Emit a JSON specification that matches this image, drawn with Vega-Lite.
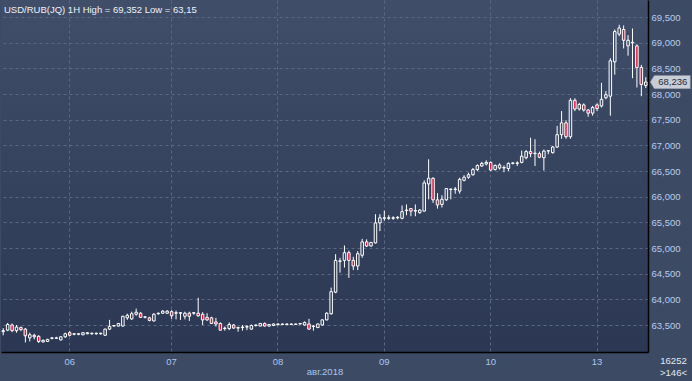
{
  "$schema": "https://vega.github.io/schema/vega-lite/v6.json",
  "width": 647,
  "height": 352,
  "autosize": {"type": "none"},
  "padding": {"left": 1, "top": 0, "right": 44, "bottom": 29},
  "background": "#3d4a64",
  "title": {"text": "USD/RUB(JQ) 1H High = 69,352 Low = 63,15", "anchor": "start", "frame": "group", "orient": "top", "offset": 0, "dx": 3, "dy": 22, "baseline": "alphabetic", "font": "Liberation Sans", "fontSize": 9.5, "fontWeight": "normal", "color": "#eef2f8"},
  "data": {"values": [
    {"t": "2018-08-03 09:00", "o": 63.37, "h": 63.44, "l": 63.30, "c": 63.39},
    {"t": "2018-08-03 10:00", "o": 63.40, "h": 63.54, "l": 63.38, "c": 63.51},
    {"t": "2018-08-03 11:00", "o": 63.50, "h": 63.53, "l": 63.36, "c": 63.39},
    {"t": "2018-08-03 12:00", "o": 63.39, "h": 63.50, "l": 63.35, "c": 63.46},
    {"t": "2018-08-03 13:00", "o": 63.45, "h": 63.47, "l": 63.38, "c": 63.41},
    {"t": "2018-08-03 14:00", "o": 63.42, "h": 63.44, "l": 63.16, "c": 63.29},
    {"t": "2018-08-03 15:00", "o": 63.25, "h": 63.35, "l": 63.18, "c": 63.31},
    {"t": "2018-08-03 16:00", "o": 63.30, "h": 63.33, "l": 63.22, "c": 63.27},
    {"t": "2018-08-03 17:00", "o": 63.28, "h": 63.30, "l": 63.15, "c": 63.18},
    {"t": "2018-08-03 18:00", "o": 63.17, "h": 63.22, "l": 63.16, "c": 63.20},
    {"t": "2018-08-03 19:00", "o": 63.18, "h": 63.23, "l": 63.17, "c": 63.22},
    {"t": "2018-08-03 20:00", "o": 63.24, "h": 63.26, "l": 63.22, "c": 63.25},
    {"t": "2018-08-03 21:00", "o": 63.24, "h": 63.27, "l": 63.23, "c": 63.25},
    {"t": "2018-08-03 22:00", "o": 63.21, "h": 63.28, "l": 63.20, "c": 63.27},
    {"t": "2018-08-03 23:00", "o": 63.27, "h": 63.35, "l": 63.25, "c": 63.33},
    {"t": "2018-08-06 01:00", "o": 63.35, "h": 63.38, "l": 63.28, "c": 63.30},
    {"t": "2018-08-06 02:00", "o": 63.32, "h": 63.34, "l": 63.30, "c": 63.33},
    {"t": "2018-08-06 03:00", "o": 63.32, "h": 63.34, "l": 63.30, "c": 63.33},
    {"t": "2018-08-06 04:00", "o": 63.31, "h": 63.36, "l": 63.30, "c": 63.35},
    {"t": "2018-08-06 05:00", "o": 63.33, "h": 63.36, "l": 63.32, "c": 63.35},
    {"t": "2018-08-06 06:00", "o": 63.33, "h": 63.35, "l": 63.31, "c": 63.34},
    {"t": "2018-08-06 07:00", "o": 63.33, "h": 63.35, "l": 63.31, "c": 63.34},
    {"t": "2018-08-06 08:00", "o": 63.33, "h": 63.35, "l": 63.31, "c": 63.34},
    {"t": "2018-08-06 09:00", "o": 63.30, "h": 63.43, "l": 63.29, "c": 63.42},
    {"t": "2018-08-06 10:00", "o": 63.42, "h": 63.60, "l": 63.40, "c": 63.47},
    {"t": "2018-08-06 11:00", "o": 63.48, "h": 63.50, "l": 63.47, "c": 63.49},
    {"t": "2018-08-06 12:00", "o": 63.48, "h": 63.54, "l": 63.47, "c": 63.53},
    {"t": "2018-08-06 13:00", "o": 63.48, "h": 63.68, "l": 63.47, "c": 63.67},
    {"t": "2018-08-06 14:00", "o": 63.64, "h": 63.72, "l": 63.60, "c": 63.69},
    {"t": "2018-08-06 15:00", "o": 63.62, "h": 63.76, "l": 63.60, "c": 63.72},
    {"t": "2018-08-06 16:00", "o": 63.71, "h": 63.82, "l": 63.68, "c": 63.75},
    {"t": "2018-08-06 17:00", "o": 63.73, "h": 63.75, "l": 63.64, "c": 63.65},
    {"t": "2018-08-06 18:00", "o": 63.65, "h": 63.67, "l": 63.63, "c": 63.66},
    {"t": "2018-08-06 19:00", "o": 63.64, "h": 63.66, "l": 63.57, "c": 63.59},
    {"t": "2018-08-06 20:00", "o": 63.58, "h": 63.73, "l": 63.57, "c": 63.71},
    {"t": "2018-08-06 21:00", "o": 63.72, "h": 63.74, "l": 63.70, "c": 63.73},
    {"t": "2018-08-06 22:00", "o": 63.73, "h": 63.79, "l": 63.72, "c": 63.77},
    {"t": "2018-08-06 23:00", "o": 63.73, "h": 63.79, "l": 63.72, "c": 63.77},
    {"t": "2018-08-07 00:00", "o": 63.76, "h": 63.79, "l": 63.62, "c": 63.68},
    {"t": "2018-08-07 01:00", "o": 63.73, "h": 63.78, "l": 63.61, "c": 63.74},
    {"t": "2018-08-07 02:00", "o": 63.73, "h": 63.75, "l": 63.60, "c": 63.74},
    {"t": "2018-08-07 03:00", "o": 63.67, "h": 63.76, "l": 63.61, "c": 63.73},
    {"t": "2018-08-07 04:00", "o": 63.73, "h": 63.76, "l": 63.58, "c": 63.67},
    {"t": "2018-08-07 05:00", "o": 63.73, "h": 63.75, "l": 63.70, "c": 63.74},
    {"t": "2018-08-07 06:00", "o": 63.73, "h": 64.03, "l": 63.66, "c": 63.68},
    {"t": "2018-08-07 07:00", "o": 63.71, "h": 63.75, "l": 63.50, "c": 63.60},
    {"t": "2018-08-07 08:00", "o": 63.65, "h": 63.73, "l": 63.58, "c": 63.60},
    {"t": "2018-08-07 09:00", "o": 63.64, "h": 63.66, "l": 63.52, "c": 63.53},
    {"t": "2018-08-07 10:00", "o": 63.56, "h": 63.64, "l": 63.47, "c": 63.52},
    {"t": "2018-08-07 11:00", "o": 63.53, "h": 63.55, "l": 63.39, "c": 63.40},
    {"t": "2018-08-07 12:00", "o": 63.43, "h": 63.47, "l": 63.39, "c": 63.44},
    {"t": "2018-08-07 13:00", "o": 63.43, "h": 63.55, "l": 63.40, "c": 63.51},
    {"t": "2018-08-07 14:00", "o": 63.50, "h": 63.52, "l": 63.43, "c": 63.44},
    {"t": "2018-08-07 15:00", "o": 63.44, "h": 63.47, "l": 63.37, "c": 63.45},
    {"t": "2018-08-07 16:00", "o": 63.45, "h": 63.50, "l": 63.39, "c": 63.46},
    {"t": "2018-08-07 17:00", "o": 63.46, "h": 63.50, "l": 63.40, "c": 63.47},
    {"t": "2018-08-07 18:00", "o": 63.42, "h": 63.51, "l": 63.41, "c": 63.49},
    {"t": "2018-08-07 19:00", "o": 63.49, "h": 63.51, "l": 63.47, "c": 63.50},
    {"t": "2018-08-07 20:00", "o": 63.48, "h": 63.54, "l": 63.47, "c": 63.53},
    {"t": "2018-08-07 21:00", "o": 63.53, "h": 63.55, "l": 63.47, "c": 63.48},
    {"t": "2018-08-07 22:00", "o": 63.48, "h": 63.52, "l": 63.47, "c": 63.51},
    {"t": "2018-08-07 23:00", "o": 63.49, "h": 63.53, "l": 63.48, "c": 63.52},
    {"t": "2018-08-08 00:00", "o": 63.51, "h": 63.53, "l": 63.49, "c": 63.52},
    {"t": "2018-08-08 01:00", "o": 63.51, "h": 63.53, "l": 63.50, "c": 63.52},
    {"t": "2018-08-08 02:00", "o": 63.51, "h": 63.53, "l": 63.50, "c": 63.52},
    {"t": "2018-08-08 03:00", "o": 63.51, "h": 63.53, "l": 63.50, "c": 63.52},
    {"t": "2018-08-08 04:00", "o": 63.51, "h": 63.53, "l": 63.50, "c": 63.52},
    {"t": "2018-08-08 05:00", "o": 63.52, "h": 63.54, "l": 63.51, "c": 63.53},
    {"t": "2018-08-08 06:00", "o": 63.50, "h": 63.57, "l": 63.49, "c": 63.55},
    {"t": "2018-08-08 07:00", "o": 63.52, "h": 63.62, "l": 63.41, "c": 63.42},
    {"t": "2018-08-08 08:00", "o": 63.47, "h": 63.50, "l": 63.39, "c": 63.48},
    {"t": "2018-08-08 09:00", "o": 63.45, "h": 63.53, "l": 63.44, "c": 63.52},
    {"t": "2018-08-08 10:00", "o": 63.50, "h": 63.61, "l": 63.49, "c": 63.60},
    {"t": "2018-08-08 11:00", "o": 63.60, "h": 63.75, "l": 63.59, "c": 63.73},
    {"t": "2018-08-08 12:00", "o": 63.72, "h": 64.23, "l": 63.70, "c": 64.15},
    {"t": "2018-08-08 13:00", "o": 64.14, "h": 64.88, "l": 64.12, "c": 64.76},
    {"t": "2018-08-08 14:00", "o": 64.74, "h": 64.81, "l": 64.52, "c": 64.75},
    {"t": "2018-08-08 15:00", "o": 64.76, "h": 65.05, "l": 64.62, "c": 64.91},
    {"t": "2018-08-08 16:00", "o": 64.91, "h": 64.95, "l": 64.42, "c": 64.76},
    {"t": "2018-08-08 17:00", "o": 64.76, "h": 64.83, "l": 64.57, "c": 64.65},
    {"t": "2018-08-08 18:00", "o": 64.65, "h": 64.94, "l": 64.57, "c": 64.89},
    {"t": "2018-08-08 19:00", "o": 64.86, "h": 65.18, "l": 64.81, "c": 65.12},
    {"t": "2018-08-08 20:00", "o": 65.12, "h": 65.17, "l": 65.02, "c": 65.04},
    {"t": "2018-08-08 21:00", "o": 65.04, "h": 65.12, "l": 65.03, "c": 65.11},
    {"t": "2018-08-08 22:00", "o": 65.10, "h": 65.66, "l": 65.09, "c": 65.49},
    {"t": "2018-08-08 23:00", "o": 65.49, "h": 65.66, "l": 65.33, "c": 65.59},
    {"t": "2018-08-09 00:00", "o": 65.58, "h": 65.73, "l": 65.53, "c": 65.59},
    {"t": "2018-08-09 01:00", "o": 65.58, "h": 65.64, "l": 65.55, "c": 65.59},
    {"t": "2018-08-09 02:00", "o": 65.58, "h": 65.62, "l": 65.55, "c": 65.59},
    {"t": "2018-08-09 03:00", "o": 65.59, "h": 65.62, "l": 65.56, "c": 65.60},
    {"t": "2018-08-09 04:00", "o": 65.58, "h": 65.83, "l": 65.56, "c": 65.71},
    {"t": "2018-08-09 05:00", "o": 65.73, "h": 65.85, "l": 65.64, "c": 65.74},
    {"t": "2018-08-09 06:00", "o": 65.77, "h": 65.78, "l": 65.62, "c": 65.72},
    {"t": "2018-08-09 07:00", "o": 65.72, "h": 65.85, "l": 65.62, "c": 65.73},
    {"t": "2018-08-09 08:00", "o": 65.69, "h": 65.76, "l": 65.67, "c": 65.74},
    {"t": "2018-08-09 09:00", "o": 65.72, "h": 66.32, "l": 65.71, "c": 66.27},
    {"t": "2018-08-09 10:00", "o": 66.25, "h": 66.73, "l": 65.95, "c": 66.36},
    {"t": "2018-08-09 11:00", "o": 66.36, "h": 66.38, "l": 65.88, "c": 65.94},
    {"t": "2018-08-09 12:00", "o": 65.94, "h": 66.07, "l": 65.77, "c": 65.84},
    {"t": "2018-08-09 13:00", "o": 65.85, "h": 66.03, "l": 65.79, "c": 65.95},
    {"t": "2018-08-09 14:00", "o": 65.94, "h": 66.17, "l": 65.92, "c": 66.16},
    {"t": "2018-08-09 15:00", "o": 66.14, "h": 66.16, "l": 65.95, "c": 66.15},
    {"t": "2018-08-09 16:00", "o": 66.14, "h": 66.19, "l": 66.06, "c": 66.15},
    {"t": "2018-08-09 17:00", "o": 66.11, "h": 66.37, "l": 66.06, "c": 66.34},
    {"t": "2018-08-09 18:00", "o": 66.32, "h": 66.42, "l": 66.30, "c": 66.38},
    {"t": "2018-08-09 19:00", "o": 66.38, "h": 66.47, "l": 66.35, "c": 66.43},
    {"t": "2018-08-09 20:00", "o": 66.43, "h": 66.56, "l": 66.41, "c": 66.53},
    {"t": "2018-08-09 21:00", "o": 66.53, "h": 66.63, "l": 66.50, "c": 66.61},
    {"t": "2018-08-09 22:00", "o": 66.60, "h": 66.68, "l": 66.58, "c": 66.65},
    {"t": "2018-08-09 23:00", "o": 66.64, "h": 66.71, "l": 66.61, "c": 66.67},
    {"t": "2018-08-10 00:00", "o": 66.67, "h": 66.69, "l": 66.50, "c": 66.52},
    {"t": "2018-08-10 01:00", "o": 66.53, "h": 66.63, "l": 66.51, "c": 66.61},
    {"t": "2018-08-10 02:00", "o": 66.56, "h": 66.65, "l": 66.53, "c": 66.62},
    {"t": "2018-08-10 03:00", "o": 66.56, "h": 66.61, "l": 66.48, "c": 66.57},
    {"t": "2018-08-10 04:00", "o": 66.55, "h": 66.67, "l": 66.50, "c": 66.65},
    {"t": "2018-08-10 05:00", "o": 66.65, "h": 66.67, "l": 66.63, "c": 66.66},
    {"t": "2018-08-10 06:00", "o": 66.65, "h": 66.69, "l": 66.60, "c": 66.66},
    {"t": "2018-08-10 07:00", "o": 66.67, "h": 66.90, "l": 66.65, "c": 66.79},
    {"t": "2018-08-10 08:00", "o": 66.76, "h": 66.91, "l": 66.73, "c": 66.88},
    {"t": "2018-08-10 09:00", "o": 66.88, "h": 67.15, "l": 66.77, "c": 66.84},
    {"t": "2018-08-10 10:00", "o": 66.84, "h": 67.12, "l": 66.60, "c": 66.85},
    {"t": "2018-08-10 11:00", "o": 66.84, "h": 66.88, "l": 66.75, "c": 66.77},
    {"t": "2018-08-10 12:00", "o": 66.76, "h": 66.92, "l": 66.51, "c": 66.89},
    {"t": "2018-08-10 13:00", "o": 66.89, "h": 66.91, "l": 66.83, "c": 66.90},
    {"t": "2018-08-10 14:00", "o": 66.86, "h": 66.99, "l": 66.84, "c": 66.97},
    {"t": "2018-08-10 15:00", "o": 66.97, "h": 67.38, "l": 66.95, "c": 67.21},
    {"t": "2018-08-10 16:00", "o": 67.21, "h": 67.67, "l": 67.13, "c": 67.44},
    {"t": "2018-08-10 17:00", "o": 67.44, "h": 67.49, "l": 67.13, "c": 67.17},
    {"t": "2018-08-10 18:00", "o": 67.17, "h": 67.92, "l": 67.13, "c": 67.88},
    {"t": "2018-08-10 19:00", "o": 67.88, "h": 67.92, "l": 67.67, "c": 67.71},
    {"t": "2018-08-10 20:00", "o": 67.71, "h": 67.83, "l": 67.68, "c": 67.80},
    {"t": "2018-08-10 21:00", "o": 67.79, "h": 67.82, "l": 67.66, "c": 67.69},
    {"t": "2018-08-10 22:00", "o": 67.69, "h": 67.71, "l": 67.56, "c": 67.63},
    {"t": "2018-08-10 23:00", "o": 67.63, "h": 67.77, "l": 67.58, "c": 67.74},
    {"t": "2018-08-13 00:00", "o": 67.79, "h": 67.82, "l": 67.67, "c": 67.72},
    {"t": "2018-08-13 01:00", "o": 67.77, "h": 68.22, "l": 67.74, "c": 67.90},
    {"t": "2018-08-13 02:00", "o": 67.93, "h": 68.06, "l": 67.90, "c": 67.99},
    {"t": "2018-08-13 03:00", "o": 67.96, "h": 68.70, "l": 67.58, "c": 68.65},
    {"t": "2018-08-13 04:00", "o": 68.63, "h": 69.26, "l": 68.38, "c": 69.22},
    {"t": "2018-08-13 05:00", "o": 69.17, "h": 69.352, "l": 69.13, "c": 69.29},
    {"t": "2018-08-13 06:00", "o": 69.26, "h": 69.34, "l": 68.89, "c": 69.05},
    {"t": "2018-08-13 07:00", "o": 68.94, "h": 69.15, "l": 68.75, "c": 69.05},
    {"t": "2018-08-13 08:00", "o": 69.00, "h": 69.28, "l": 68.31, "c": 69.01},
    {"t": "2018-08-13 09:00", "o": 68.94, "h": 68.97, "l": 68.13, "c": 68.52},
    {"t": "2018-08-13 10:00", "o": 68.52, "h": 68.57, "l": 67.96, "c": 68.19},
    {"t": "2018-08-13 11:00", "o": 68.17, "h": 68.33, "l": 68.12, "c": 68.236}
  ]},
  "encoding": {
    "x": {
      "field": "t", "type": "ordinal",
      "scale": {"type": "band", "paddingInner": 0, "paddingOuter": 0},
      "axis": {
        "values": ["2018-08-06 01:00", "2018-08-07 00:00", "2018-08-08 00:00", "2018-08-09 00:00", "2018-08-10 00:00", "2018-08-13 00:00"],
        "labelExpr": "substring(datum.label, 8, 10)",
        "bandPosition": 0.5,
        "ticks": false,
        "domainColor": "#000000", "domainWidth": 1.5,
        "labelColor": "#a8c6f0", "labelFont": "Liberation Sans", "labelFontSize": 9.5, "labelPadding": 4, "labelAngle": 0,
        "grid": true, "gridColor": "#5b6882", "gridDash": [3, 3], "gridWidth": 1,
        "title": "авг.2018", "titleColor": "#a8c6f0", "titleFont": "Liberation Sans", "titleFontSize": 9.5, "titleFontWeight": "normal", "titlePadding": 1
      }
    }
  },
  "layer": [
    {
      "mark": {"type": "rule", "color": "#ffffff", "strokeWidth": 1},
      "encoding": {
        "y": {
          "field": "l", "type": "quantitative",
          "scale": {"domain": [62.974, 69.835], "nice": false, "zero": false},
          "axis": {
            "orient": "right",
            "values": [63.5, 64, 64.5, 65, 65.5, 66, 66.5, 67, 67.5, 68, 68.5, 69, 69.5],
            "tickCount": 30,
            "format": ".3f",
            "labelOverlap": false,
            "ticks": false,
            "domainColor": "#000000", "domainWidth": 1.5,
            "labelColor": "#b8cdee", "labelFont": "Liberation Sans", "labelFontSize": 9.5, "labelPadding": 3,
            "grid": true, "gridColor": "#5b6882", "gridDash": [3, 3], "gridWidth": 1,
            "title": ["16252", ">146<"], "titleAngle": 0, "titleX": 25, "titleY": 363, "titleAlign": "center", "titleBaseline": "alphabetic",
            "titleColor": "#e4e9f2", "titleFont": "Liberation Sans", "titleFontSize": 9.5, "titleFontWeight": "normal", "titleLineHeight": 12
          }
        },
        "y2": {"field": "h"}
      }
    },
    {
      "mark": {"type": "bar", "width": 2.5, "stroke": "#ffffff", "strokeWidth": 1},
      "encoding": {
        "y": {"field": "o", "type": "quantitative"},
        "y2": {"field": "c"},
        "fill": {
          "condition": {"test": "datum.c < datum.o", "value": "#dc143c"},
          "field": "c", "type": "quantitative",
          "scale": {"domain": [62.974, 69.835], "range": ["#2c3853", "#414e69"]},
          "legend": null
        }
      }
    },
    {
      "transform": [{"filter": "datum.t == '2018-08-13 11:00'"}],
      "mark": {"type": "point", "shape": "M-1,0L-0.8,-0.33L1,-0.33L1,0.33L-0.8,0.33Z", "size": 1600, "filled": true, "fill": "#c9cdd6", "stroke": "#8890a0", "strokeWidth": 0.5, "opacity": 1, "xOffset": 24.5},
      "encoding": {"y": {"field": "c", "type": "quantitative"}}
    },
    {
      "transform": [{"filter": "datum.t == '2018-08-13 11:00'"}],
      "mark": {"type": "text", "xOffset": 27, "align": "center", "baseline": "middle", "font": "Liberation Sans", "fontSize": 9.5, "color": "#1e2a40"},
      "encoding": {
        "y": {"field": "c", "type": "quantitative"},
        "text": {"field": "c", "type": "quantitative", "format": ".3f"}
      }
    }
  ],
  "config": {
    "view": {
      "stroke": null,
      "fill": {"gradient": "linear", "x1": 0, "y1": 0, "x2": 0, "y2": 1, "stops": [{"offset": 0, "color": "#414e69"}, {"offset": 0.5, "color": "#36435e"}, {"offset": 1, "color": "#2c3853"}]}
    },
    "locale": {"number": {"decimal": ",", "thousands": "\u00a0", "grouping": [3], "currency": ["", ""]}}
  }
}
